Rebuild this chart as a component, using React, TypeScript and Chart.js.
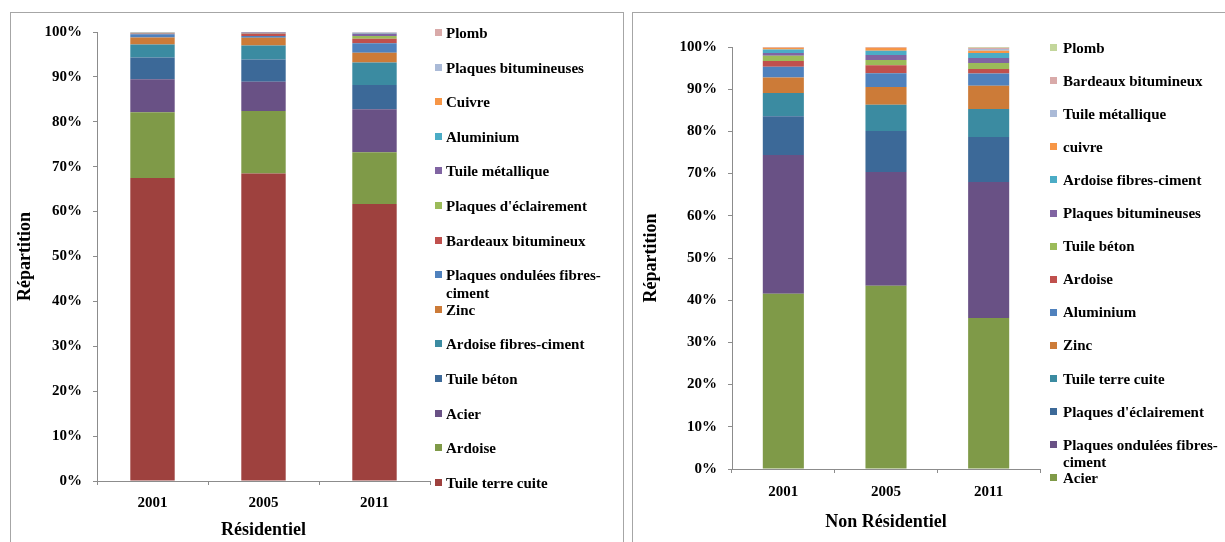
import React, { useEffect, useRef } from "react";
import { Chart, registerables } from "chart.js";

Chart.register(...registerables);

const FONT = '"Liberation Serif", "Times New Roman", Times, serif';
const AXIS = "#8c8c8c";

// ---------- shared ----------
const years = ["2001", "2005", "2011"];
const yTickLabels = ["0%", "10%", "20%", "30%", "40%", "50%", "60%", "70%", "80%", "90%", "100%"];

// ---------- Résidentiel (bottom -> top) ----------
const resLabels = [
  "Tuile terre cuite",
  "Ardoise",
  "Acier",
  "Tuile béton",
  "Ardoise fibres-ciment",
  "Zinc",
  "Plaques ondulées fibres-ciment",
  "Bardeaux bitumineux",
  "Plaques d'éclairement",
  "Tuile métallique",
  "Aluminium",
  "Cuivre",
  "Plaques bitumineuses",
  "Plomb",
];
const resColors = [
  "#9E413E", "#7F9A48", "#695185", "#3C6998", "#3B8BA1", "#CC7B38", "#4F81BD",
  "#C0504D", "#9BBB59", "#8064A2", "#4BACC6", "#F79646", "#AABAD7", "#D9AAA9",
];
const resTuileTerreCuite = [67.5, 68.5, 61.7];
const resArdoise = [14.6, 13.9, 11.5];
const resAcier = [7.4, 6.5, 9.6];
const resTuileBeton = [4.8, 5.0, 5.4];
const resArdoiseFibresCiment = [2.9, 3.1, 5.0];
const resZinc = [1.6, 1.7, 2.2];
const resPlaquesOndulees = [0.7, 0.4, 2.1];
const resBardeaux = [0.1, 0.5, 1.0];
const resPlaquesEclairement = [0.05, 0.05, 0.6];
const resTuileMetallique = [0.15, 0.25, 0.5];
const resAluminium = [0.05, 0.05, 0.1];
const resCuivre = [0.05, 0.05, 0.1];
const resPlaquesBitumineuses = [0.05, 0.0, 0.1];
const resPlomb = [0.05, 0.0, 0.1];
const resSeries = [
  resTuileTerreCuite, resArdoise, resAcier, resTuileBeton, resArdoiseFibresCiment,
  resZinc, resPlaquesOndulees, resBardeaux, resPlaquesEclairement, resTuileMetallique,
  resAluminium, resCuivre, resPlaquesBitumineuses, resPlomb,
];

// ---------- Non Résidentiel (bottom -> top) ----------
const nrLabels = [
  "Acier",
  "Plaques ondulées fibres-ciment",
  "Plaques d'éclairement",
  "Tuile terre cuite",
  "Zinc",
  "Aluminium",
  "Ardoise",
  "Tuile béton",
  "Plaques bitumineuses",
  "Ardoise fibres-ciment",
  "cuivre",
  "Tuile métallique",
  "Bardeaux bitumineux",
  "Plomb",
];
const nrColors = [
  "#7F9A48", "#695185", "#3C6998", "#3B8BA1", "#CC7B38", "#4F81BD", "#C0504D",
  "#9BBB59", "#8064A2", "#4BACC6", "#F79646", "#AABAD7", "#D9AAA9", "#C3D69B",
];
const nrAcier = [41.5, 43.4, 35.8];
const nrPlaquesOndulees = [32.9, 27.0, 32.2];
const nrPlaquesEclairement = [9.2, 9.7, 10.7];
const nrTuileTerreCuite = [5.5, 6.2, 6.6];
const nrZinc = [3.7, 4.2, 5.5];
const nrAluminium = [2.5, 3.3, 2.9];
const nrArdoise = [1.4, 1.9, 1.1];
const nrTuileBeton = [1.2, 1.2, 1.4];
const nrPlaquesBitumineuses = [0.7, 1.2, 1.2];
const nrArdoiseFibresCiment = [0.8, 1.0, 1.2];
const nrCuivre = [0.4, 0.7, 0.5];
const nrTuileMetallique = [0.05, 0.05, 0.4];
const nrBardeaux = [0.15, 0.15, 0.3];
const nrPlomb = [0.0, 0.0, 0.2];
const nrSeries = [
  nrAcier, nrPlaquesOndulees, nrPlaquesEclairement, nrTuileTerreCuite, nrZinc,
  nrAluminium, nrArdoise, nrTuileBeton, nrPlaquesBitumineuses, nrArdoiseFibresCiment,
  nrCuivre, nrTuileMetallique, nrBardeaux, nrPlomb,
];

type Area = { left: number; top: number; right: number; bottom: number };

function StackChart(props: {
  labels: string[];
  colors: string[];
  series: number[][];
  xTitle: string;
  x: number;
  y: number;
  width: number;
  height: number;
  area: Area;
  yTitlePad: number;
  xTitlePad: number;
  xTickPad: number;
}) {
  const ref = useRef<HTMLCanvasElement | null>(null);
  useEffect(() => {
    if (!ref.current) return;
    const { area, width, height } = props;
    const tickFont = { family: FONT, size: 15, weight: "bold" as const };
    const titleFont = { family: FONT, size: 18, weight: "bold" as const };
    const chart = new Chart(ref.current, {
      type: "bar",
      data: {
        labels: years,
        datasets: props.series.map((d, i) => ({
          label: props.labels[i],
          data: d,
          backgroundColor: props.colors[i],
          borderWidth: 0,
          barPercentage: 0.4,
          categoryPercentage: 1,
        })),
      },
      options: {
        animation: false,
        responsive: false,
        maintainAspectRatio: false,
        devicePixelRatio: 1,
        layout: { padding: { left: 0, top: area.top, right: width - area.right, bottom: 0 } },
        plugins: { legend: { display: false }, tooltip: { enabled: false } },
        scales: {
          x: {
            stacked: true,
            grid: { drawOnChartArea: false, drawTicks: true, tickLength: 4, color: AXIS, offset: true },
            border: { color: AXIS, width: 1 },
            ticks: { font: tickFont, color: "#000", padding: props.xTickPad, maxRotation: 0 },
            title: {
              display: true,
              text: props.xTitle,
              font: titleFont,
              color: "#000",
              padding: { top: 0, bottom: props.xTitlePad },
            },
            afterFit: (s: any) => {
              s.height = height - area.bottom;
            },
          },
          y: {
            stacked: true,
            min: 0,
            max: 100,
            grid: { drawOnChartArea: false, drawTicks: true, tickLength: 4, color: AXIS },
            border: { color: AXIS, width: 1 },
            ticks: {
              stepSize: 10,
              font: tickFont,
              color: "#000",
              padding: 11,
              callback: (_v: any, i: number) => yTickLabels[i],
            },
            title: {
              display: true,
              text: "Répartition",
              font: titleFont,
              color: "#000",
              padding: { top: props.yTitlePad, bottom: 0 },
            },
            afterFit: (s: any) => {
              s.width = area.left;
            },
          },
        },
      },
    });
    return () => chart.destroy();
  }, []);
  return (
    <canvas
      ref={ref}
      width={props.width}
      height={props.height}
      style={{ position: "absolute", left: props.x, top: props.y, width: props.width, height: props.height }}
    />
  );
}

function Legend(props: {
  labels: string[];
  colors: string[];
  markerX: number;
  textX: number;
  firstY: number;
  step: number;
  textWidth: number;
  lineHeight: number;
}) {
  const n = props.labels.length;
  const rows = [];
  for (let k = 0; k < n; k++) {
    const i = n - 1 - k; // legend lists top of stack first
    const cy = props.firstY + k * props.step;
    rows.push(
      <div
        key={k}
        style={{
          position: "absolute",
          left: props.markerX,
          top: cy - props.lineHeight / 2,
          display: "flex",
          alignItems: "flex-start",
        }}
      >
        <span
          style={{
            display: "block",
            width: 7,
            height: 7,
            marginTop: props.lineHeight / 2 - 4,
            background: props.colors[i],
          }}
        />
        <span
          style={{
            display: "block",
            marginLeft: props.textX - props.markerX - 7,
            width: props.textWidth,
            lineHeight: props.lineHeight + "px",
            fontFamily: FONT,
            fontWeight: "bold",
            fontSize: 15,
            color: "#000",
          }}
        >
          {props.labels[i]}
        </span>
      </div>
    );
  }
  return <>{rows}</>;
}

export default function App() {
  return (
    <div
      style={{
        position: "absolute",
        left: 0,
        top: 0,
        width: 1225,
        height: 542,
        overflow: "hidden",
        background: "#fff",
      }}
    >
      <div
        style={{
          position: "absolute",
          left: 10,
          top: 12,
          width: 614,
          height: 560,
          border: "1px solid #a6a6a6",
          boxSizing: "border-box",
        }}
      />
      <div
        style={{
          position: "absolute",
          left: 632,
          top: 12,
          width: 640,
          height: 560,
          border: "1px solid #a6a6a6",
          boxSizing: "border-box",
        }}
      />
      <StackChart
        labels={resLabels}
        colors={resColors}
        series={resSeries}
        xTitle="Résidentiel"
        x={10}
        y={12}
        width={615}
        height={530}
        area={{ left: 87, top: 10, right: 420, bottom: 469 }}
        yTitlePad={4.2}
        xTitlePad={1.2}
        xTickPad={9}
      />
      <StackChart
        labels={nrLabels}
        colors={nrColors}
        series={nrSeries}
        xTitle="Non Résidentiel"
        x={632}
        y={12}
        width={593}
        height={530}
        area={{ left: 100, top: 35, right: 408, bottom: 457 }}
        yTitlePad={8.2}
        xTitlePad={9.2}
        xTickPad={10}
      />
      <Legend
        labels={resLabels}
        colors={resColors}
        markerX={435}
        textX={446}
        firstY={33}
        step={34.6}
        textWidth={168}
        lineHeight={18}
      />
      <Legend
        labels={nrLabels}
        colors={nrColors}
        markerX={1050}
        textX={1063}
        firstY={48}
        step={33.1}
        textWidth={160}
        lineHeight={17}
      />
    </div>
  );
}
